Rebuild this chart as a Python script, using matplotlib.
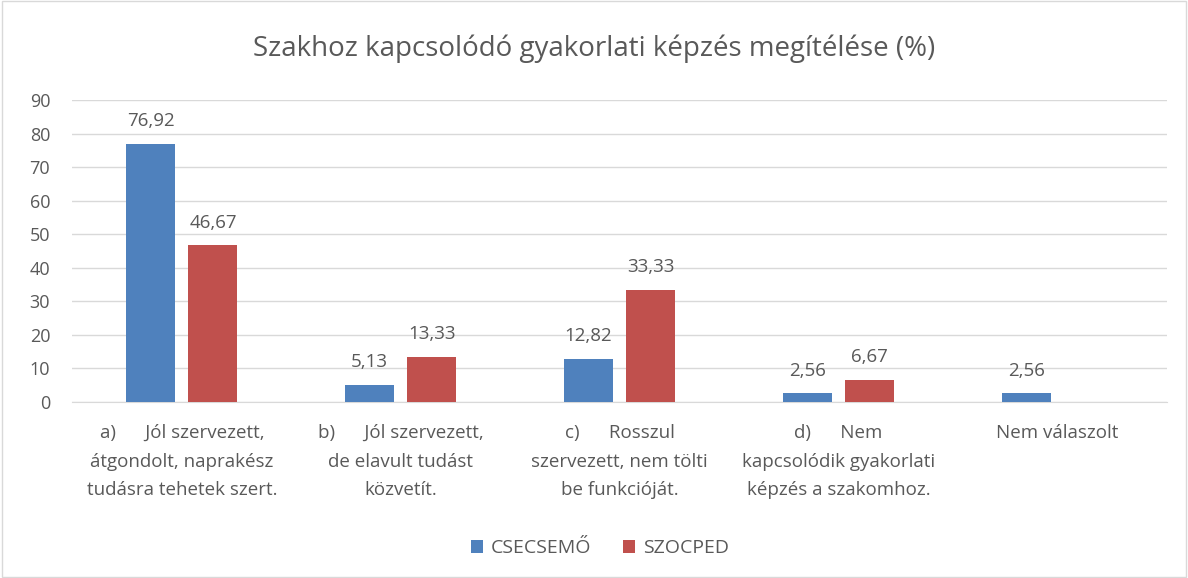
import numpy as np
import matplotlib.pyplot as plt

categories = [
    "a)      Jól szervezett,\nátgondolt, naprakész\ntudásra tehetek szert.",
    "b)      Jól szervezett,\nde elavult tudást\nközvetít.",
    "c)      Rosszul\nszervezett, nem tölti\nbe funkcióját.",
    "d)      Nem\nkapcsolódik gyakorlati\nképzés a szakomhoz.",
    "Nem válaszolt",
]
csecsemo = [76.92, 5.13, 12.82, 2.56, 2.56]
szocped = [46.67, 13.33, 33.33, 6.67, 0]
series_names = ["CSECSEMŐ", "SZOCPED"]
colors = ["#4f81bd", "#c0504d"]
txt = "#595959"

plt.rcParams['font.family'] = ['Open Sans', 'DejaVu Sans']

fig = plt.figure(figsize=(11.88, 5.78), dpi=100)
ax = fig.add_axes([0.061, 0.3045, 0.921, 0.5225])

x = np.arange(len(categories))
w = 0.224
off = 0.142
b1 = ax.bar(x - off, csecsemo, w, color=colors[0], label=series_names[0], zorder=3)
b2 = ax.bar(x + off, szocped, w, color=colors[1], label=series_names[1], zorder=3)

for bars, vals in [(b1, csecsemo), (b2, szocped)]:
    for b, v in zip(bars, vals):
        if v == 0:
            continue
        ax.annotate(f"{v:.2f}".replace(".", ","), (b.get_x() + b.get_width() / 2, v),
                    xytext=(0, 10), textcoords="offset points",
                    ha="center", va="bottom", fontsize=13.5, color=txt)

ax.set_xlim(-0.5, len(categories) - 0.5)
ax.set_ylim(0, 90)
ax.set_yticks(range(0, 91, 10))
ax.yaxis.grid(True, color="#d9d9d9", linewidth=1, zorder=0)
ax.set_xticks(x)
ax.set_xticklabels(categories, fontsize=13.5, color=txt, linespacing=1.75)
ax.tick_params(axis="y", labelsize=13, labelcolor=txt, length=0, pad=16)
ax.tick_params(axis="x", length=0, pad=16)
for s in ["top", "right", "left"]:
    ax.spines[s].set_visible(False)
ax.spines["bottom"].set_color("#d9d9d9")

fig.text(0.5, 0.916, "Szakhoz kapcsolódó gyakorlati képzés megítélése (%)",
         ha="center", va="center", fontsize=20, color=txt)

fig.legend(handles=[b1, b2], loc="center", bbox_to_anchor=(0.505, 0.052), ncol=2,
           frameon=False, fontsize=14, handlelength=0.65, handleheight=0.65,
           columnspacing=1.6, handletextpad=0.4, labelcolor=txt)

fig.patches.append(plt.Rectangle((0.002, 0.002), 0.996, 0.996, transform=fig.transFigure,
                                 fill=False, edgecolor="#d9d9d9", linewidth=1))

fig.savefig("out.png", dpi=100)
